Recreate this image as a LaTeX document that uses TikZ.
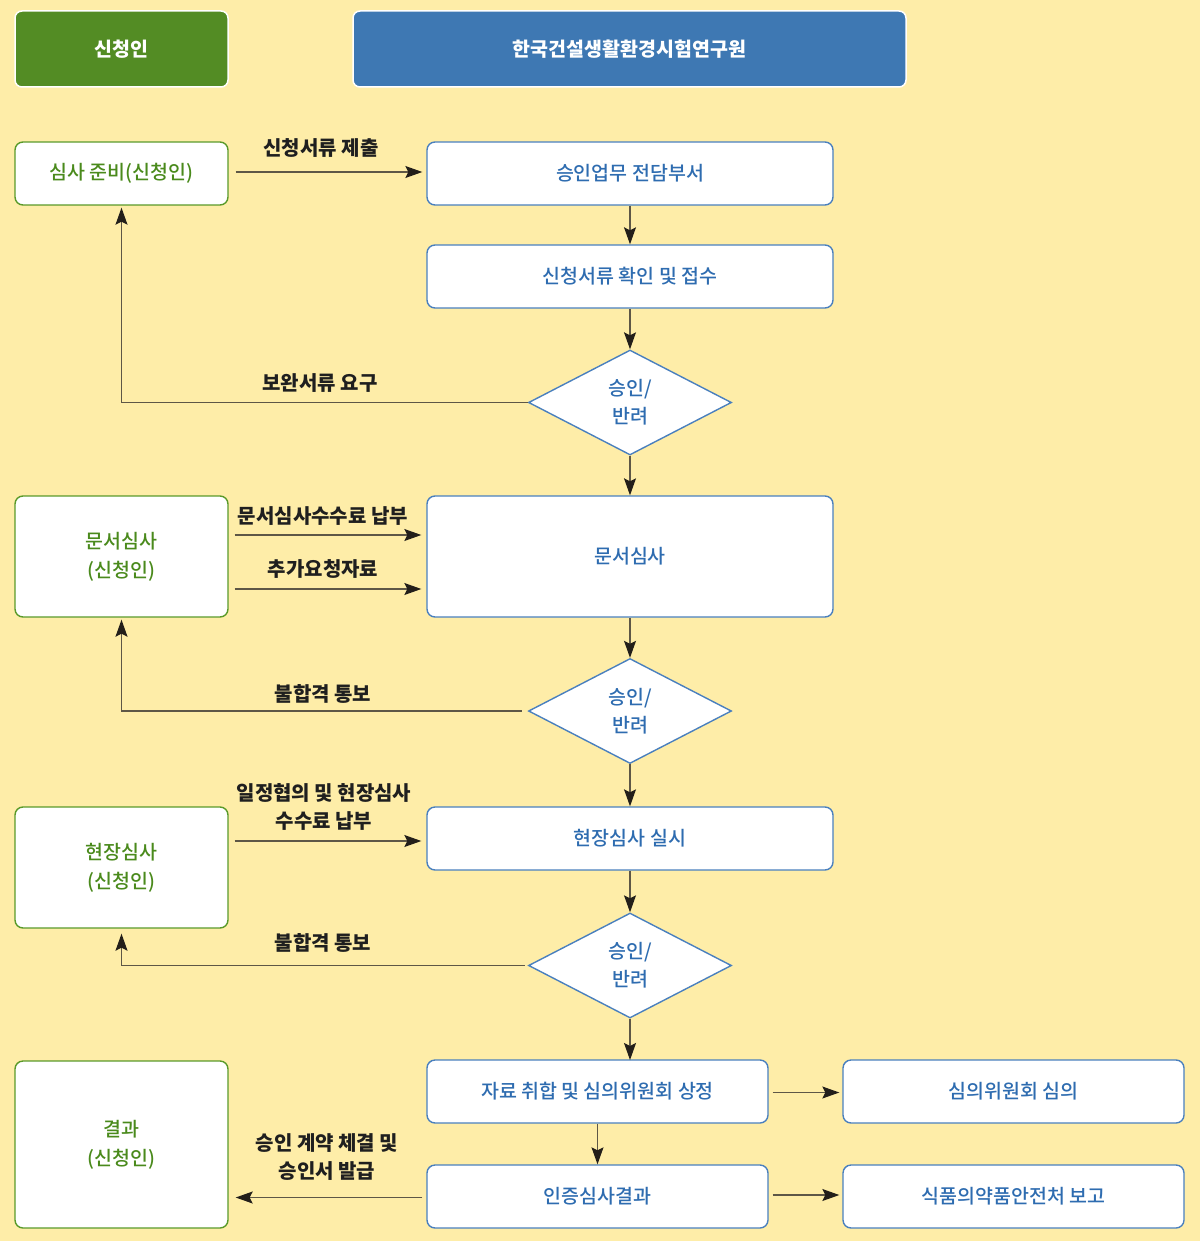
\documentclass[tikz,border=0pt]{standalone}
\usepackage{fontspec}
\setmainfont{Noto Sans CJK KR}
\newfontfamily\krmed{Noto Sans CJK KR Medium}
\usetikzlibrary{arrows.meta,shapes.geometric,calc}
\definecolor{bg}{HTML}{FEEDA8}
\definecolor{hgreen}{HTML}{538C24}
\definecolor{hblue}{HTML}{3E78B3}
\definecolor{tgreen}{HTML}{4A8A1C}
\definecolor{tblue}{HTML}{2E6CB0}
\definecolor{lgreen}{HTML}{5A9A2A}
\definecolor{lblue}{HTML}{4A80BE}
\definecolor{conn}{HTML}{5E5746}
\definecolor{tipc}{HTML}{231F1A}
\begin{document}
\begin{tikzpicture}[x=1pt,y=-1pt,
  font=\krmed\fontsize{19.5}{29}\selectfont,
  header/.style={rectangle,rounded corners=7pt,draw=white,line width=1.5pt,text=white,font=\fontsize{19.5}{29}\selectfont\bfseries,inner sep=0pt},
  gbox/.style={rectangle,rounded corners=8pt,draw=lgreen,line width=1.4pt,fill=white,text=tgreen,align=center,inner sep=0pt,minimum width=213pt},
  bbox/.style={rectangle,rounded corners=8pt,draw=lblue,line width=1.4pt,fill=white,text=tblue,align=center,inner sep=0pt},
  dia/.style={diamond,draw=lblue,line width=1.4pt,fill=white,text=tblue,align=center,inner sep=0pt,minimum width=203pt,minimum height=105pt,font=\krmed\fontsize{19.5}{28}\selectfont},
  arr/.style={draw=conn,line width=1.1pt,-{Stealth[length=17pt,width=12pt,inset=3pt,fill=tipc,color=tipc]}},
  lbl/.style={text=black!88,font=\fontsize{20}{28}\selectfont\bfseries,align=center,inner sep=0pt}
]
\useasboundingbox (0,0) rectangle (1200,1241);
\fill[bg] (0,0) rectangle (1200,1241);

% headers
\node[header,fill=hgreen,minimum width=213pt,minimum height=76pt] (h1) at (121.5,49) {신청인};
\node[header,fill=hblue,minimum width=553pt,minimum height=76pt] (h2) at (629.5,49) {한국건설생활환경시험연구원};

% left column
\node[gbox,minimum height=63pt] (l1) at (121.5,173.5) {심사 준비(신청인)};
\node[gbox,minimum height=121pt] (l2) at (121.5,556.5) {문서심사\\(신청인)};
\node[gbox,minimum height=121pt] (l3) at (121.5,867.5) {현장심사\\(신청인)};
\node[gbox,minimum height=167pt] (l4) at (121.5,1144.5) {결과\\(신청인)};

% right column
\node[bbox,minimum width=406pt,minimum height=63pt] (b1) at (630,173.5) {승인업무 전담부서};
\node[bbox,minimum width=406pt,minimum height=63pt] (b2) at (630,276.5) {신청서류 확인 및 접수};
\node[dia] (d1) at (630,402.5) {승인/\\반려};
\node[bbox,minimum width=406pt,minimum height=121pt] (b3) at (630,556.5) {문서심사};
\node[dia] (d2) at (630,711) {승인/\\반려};
\node[bbox,minimum width=406pt,minimum height=63pt] (b4) at (630,838.5) {현장심사 실시};
\node[dia] (d3) at (630,965.5) {승인/\\반려};
\node[bbox,minimum width=341pt,minimum height=63pt] (b5) at (597.5,1091.5) {자료 취합 및 심의위원회 상정};
\node[bbox,minimum width=341pt,minimum height=63pt] (b6) at (1013.5,1091.5) {심의위원회 심의};
\node[bbox,minimum width=341pt,minimum height=63pt] (b7) at (597.5,1196.5) {인증심사결과};
\node[bbox,minimum width=341pt,minimum height=63pt] (b8) at (1013.5,1196.5) {식품의약품안전처 보고};

% connectors
\draw[arr] ($(l1.east)+(7,-1.5)$) -- ($(b1.west)+(-4,-1.5)$);
\node[lbl] (t1) at (321,148) {신청서류 제출};
\draw[arr] (b1.south) -- (b2.north);
\draw[arr] (b2.south) -- (d1.north);
\draw[arr] (d1.west) -| ($(l1.south)+(0,2)$);
\node[lbl] (t2) at (320,383) {보완서류 요구};
\draw[arr] (d1.south) -- (b3.north);

\draw[arr] ($(l2.east)+(6,-21.5)$) -- ($(b3.west)+(-5,-21.5)$);
\node[lbl] (t3) at (323,516) {문서심사수수료 납부};
\draw[arr] ($(l2.east)+(6,32.5)$) -- ($(b3.west)+(-5,32.5)$);
\node[lbl] (t4) at (323,569) {추가요청자료};
\draw[arr] (b3.south) -- (d2.north);
\draw[arr] ($(d2.west)+(-6,0)$) -| ($(l2.south)+(0,2)$);
\node[lbl] (t5) at (323,694) {불합격 통보};
\draw[arr] (d2.south) -- (b4.north);

\draw[arr] ($(l3.east)+(6,-26.5)$) -- ($(b4.west)+(-5,2.5)$);
\node[lbl] (t6) at (324,807) {일정협의 및 현장심사\\수수료 납부};
\draw[arr] (b4.south) -- (d3.north);
\draw[arr] ($(d3.west)+(-3,0)$) -| ($(l3.south)+(0,5)$);
\node[lbl] (t7) at (323,943) {불합격 통보};
\coordinate (c5) at (630,1060);
\draw[arr] (d3.south) -- (c5);

\draw[arr] ($(b5.east)+(4,1)$) -- ($(b6.west)+(-3,1)$);
\draw[arr] (b5.south) -- (b7.north);
\draw[arr] ($(b7.east)+(4,-1.5)$) -- ($(b8.west)+(-3,-1.5)$);
\draw[arr] ($(b7.west)+(-4,1)$) -- ($(l4.east|-b7.west)+(7,1)$);
\node[lbl] (t8) at (327,1157) {승인 계약 체결 및\\승인서 발급};
\end{tikzpicture}
\end{document}
